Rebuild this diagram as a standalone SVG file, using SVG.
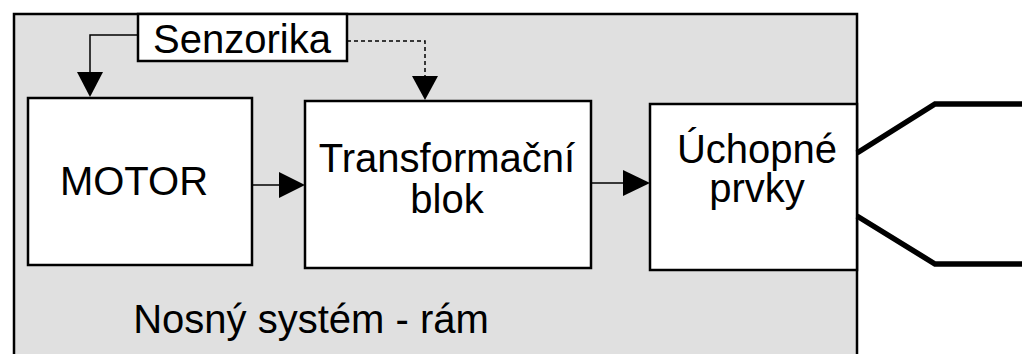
<svg xmlns="http://www.w3.org/2000/svg" width="1022" height="354" viewBox="0 0 1022 354">
<style>
.box{fill:#fff;stroke:#000;stroke-width:2.5}
.t{font-family:"Liberation Sans",Arial,sans-serif;font-size:40px;fill:#000;text-anchor:middle}
.ln{fill:none;stroke:#000;stroke-width:1.5}
.dash{fill:none;stroke:#000;stroke-width:1.5;stroke-dasharray:4 3}
.grip{fill:none;stroke:#000;stroke-width:5.5}
</style>
<rect width="1022" height="354" fill="#fff"/>
<g id="frame">
<rect x="14" y="14" width="843" height="360" fill="#e0e0e0" stroke="#000" stroke-width="2.5"/>
<text class="t" x="311" y="333">Nosný systém - rám</text>
</g>
<g id="senzorika">
<rect class="box" x="138" y="14" width="209" height="47"/>
<text class="t" x="242" y="53">Senzorika</text>
</g>
<g id="motor">
<rect class="box" x="28" y="98" width="224" height="167"/>
<text class="t" x="134" y="195">MOTOR</text>
</g>
<g id="transform">
<rect class="box" x="305" y="101" width="286" height="167"/>
<text class="t" x="447" y="172">Transformační</text>
<text class="t" x="447" y="213">blok</text>
</g>
<g id="uchopne">
<rect class="box" x="650" y="104" width="207" height="166"/>
<text class="t" x="757" y="163">Úchopné</text>
<text class="t" x="757" y="202">prvky</text>
</g>
<g id="connectors">
<polyline class="ln" points="138,35 90,35 90,74"/>
<polygon points="77,72 103,72 90,97"/>
<polyline class="dash" points="347,41 425,41 425,78"/>
<polygon points="412,76 438,76 425,100"/>
<line class="ln" x1="252" y1="185" x2="280" y2="185"/>
<polygon points="279,172 305,185 279,198"/>
<line class="ln" x1="591" y1="183" x2="625" y2="183"/>
<polygon points="623,170 650,183 623,196"/>
<polyline class="grip" points="857,153 935,104 1022,104"/>
<polyline class="grip" points="857,216 935,264 1022,264"/>
</g>
</svg>
